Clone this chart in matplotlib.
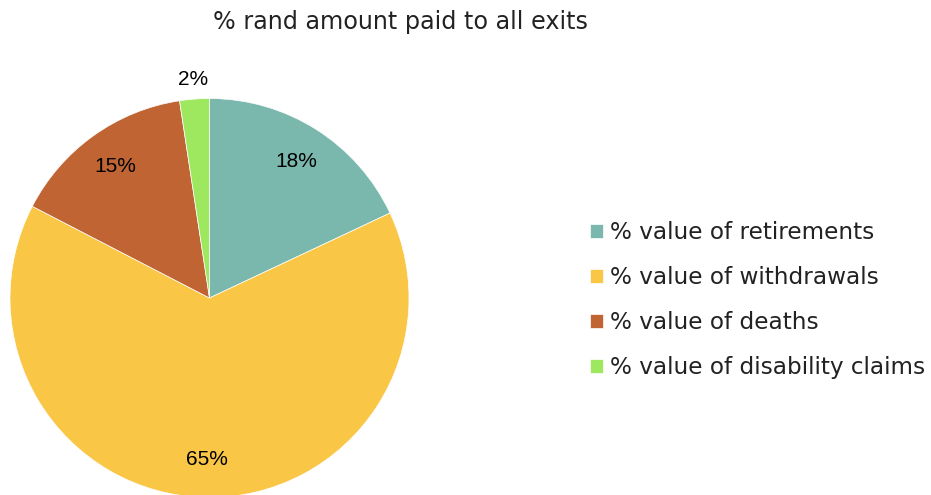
import matplotlib

matplotlib.use("Agg")
import matplotlib.pyplot as plt
import numpy as np

CATEGORIES = [
    "% value of retirements",
    "% value of withdrawals",
    "% value of deaths",
    "% value of disability claims",
]
SHARES = [18.0, 64.6, 15.0, 2.4]
COLORS = ["#7AB8AD", "#F9C646", "#C06434", "#9EE860"]

W, H = 931, 495
fig = plt.figure(figsize=(W / 100, H / 100), dpi=100)

# pie sits in a square axes, centre (209.5, 298) px from top-left, radius ~199.5 px
cx, cy, r = 209.5, 298.0, 199.5
ax = fig.add_axes([(cx - r) / W, (H - cy - r) / H, 2 * r / W, 2 * r / H])
wedges, _, autotexts = ax.pie(
    SHARES,
    colors=COLORS,
    startangle=90,
    counterclock=False,
    autopct="%.0f%%",
    pctdistance=0.81,
    wedgeprops={"linewidth": 0.5, "edgecolor": "white"},
    textprops={"family": "Liberation Sans", "fontsize": 15, "color": "black"},
)
ax.set_xlim(-1, 1)
ax.set_ylim(-1, 1)

# the thin slice gets its label just outside the rim
small = wedges[-1]
mid = np.deg2rad((small.theta1 + small.theta2) / 2)
autotexts[-1].set_position((1.1 * np.cos(mid), 1.1 * np.sin(mid)))

fig.text(
    400 / W, 1 - 22 / H,
    "% rand amount paid to all exits",
    ha="center", va="center",
    fontsize=17.2, family="DejaVu Sans", color="#222222",
)

fig.legend(
    wedges,
    CATEGORIES,
    loc="center left",
    bbox_to_anchor=(569 / W, 1 - 300 / H),
    frameon=False,
    prop={"family": "DejaVu Sans", "size": 16.7},
    handlelength=0.56,
    handleheight=0.56,
    handletextpad=0.3,
    labelspacing=0.95,
    labelcolor="#222222",
)

fig.savefig("out.png", dpi=100)
